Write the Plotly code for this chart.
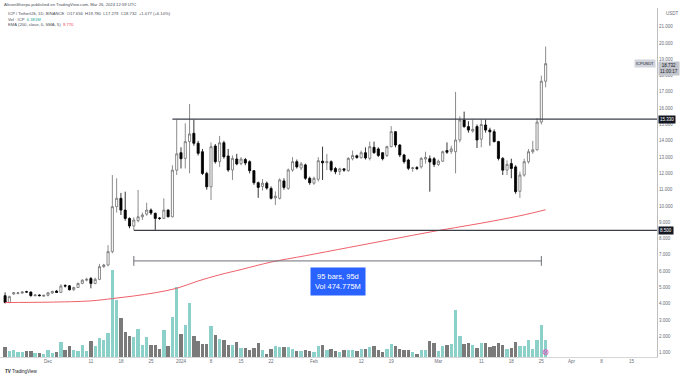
import plotly.graph_objects as go
import pandas as pd

# ---------------- data ----------------
start_date = "2023-11-21"
opens = [4.50, 4.08, 4.60, 4.64, 4.66, 4.74, 4.72, 4.50, 4.54, 4.47,
         4.52, 4.66, 4.78, 4.70, 5.12, 5.10, 4.86, 5.00, 5.25, 5.45,
         5.55, 5.25, 5.50, 6.28, 6.38, 7.20, 9.96, 10.47, 9.75, 9.24,
         8.77, 9.10, 9.34, 9.50, 9.75, 9.55, 9.26, 9.24, 9.75, 9.34,
         12.20, 13.27, 12.92, 13.95, 14.46, 13.85, 13.33, 12.00, 11.18, 13.68,
         12.72, 13.88, 13.07, 12.21, 12.88, 12.60, 12.85, 12.72, 12.17, 11.43,
         11.20, 11.40, 11.08, 10.50, 10.47, 11.54, 11.08, 12.21, 12.72, 12.33,
         12.52, 11.70, 11.40, 11.64, 12.75, 12.65, 12.72, 12.30, 12.12, 12.28,
         12.17, 12.90, 13.08, 12.96, 13.27, 12.92, 13.60, 13.50, 13.27, 13.10,
         13.64, 14.56, 13.74, 13.13, 12.82, 12.30, 12.36, 12.40, 12.88, 12.90,
         12.90, 12.55, 12.75, 13.40, 13.35, 13.33, 14.05, 15.28, 14.87, 14.60,
         14.87, 14.10, 14.97, 14.66, 14.56, 13.95, 12.92, 12.20, 12.60, 12.40,
         10.90, 11.90, 12.72, 13.33, 13.45, 15.15, 17.656]
highs = [4.70, 4.50, 4.72, 4.70, 4.76, 4.80, 4.76, 4.58, 4.58, 4.55,
         4.72, 4.80, 4.85, 5.20, 5.20, 5.15, 5.05, 5.30, 5.50, 5.60,
         5.65, 5.60, 6.45, 6.45, 7.60, 11.90, 11.70, 10.80, 10.88, 9.30,
         9.30, 10.98, 9.60, 10.20, 9.85, 9.60, 9.32, 10.47, 9.80, 12.50,
         15.30, 13.60, 15.07, 16.26, 15.30, 14.00, 13.50, 12.10, 13.90, 13.80,
         14.30, 14.00, 13.50, 13.10, 13.20, 13.00, 12.95, 12.80, 12.20, 11.50,
         11.65, 11.50, 11.20, 10.90, 11.70, 11.70, 12.30, 13.00, 12.85, 12.70,
         12.60, 11.80, 11.80, 13.00, 13.64, 13.20, 12.80, 12.40, 12.35, 12.30,
         13.00, 13.40, 13.15, 13.40, 13.60, 13.95, 13.95, 13.60, 13.30, 13.70,
         14.90, 14.60, 13.80, 13.20, 12.90, 12.40, 12.45, 13.00, 13.33, 13.10,
         13.00, 12.85, 13.40, 13.90, 13.70, 17.00, 15.50, 15.79, 15.20, 15.30,
         15.00, 15.30, 15.30, 14.80, 14.70, 14.00, 13.00, 12.80, 12.90, 12.50,
         12.10, 12.90, 13.50, 14.00, 15.40, 18.00, 19.780]
lows = [4.02, 4.03, 4.55, 4.58, 4.62, 4.68, 4.44, 4.45, 4.46, 4.42,
        4.45, 4.62, 4.66, 4.66, 5.00, 4.82, 4.80, 4.98, 5.20, 5.38,
        4.95, 5.20, 5.45, 6.20, 6.30, 7.10, 9.60, 9.45, 9.10, 8.63,
        8.53, 9.00, 9.15, 9.40, 9.45, 8.53, 9.15, 9.20, 9.30, 9.30,
        11.90, 12.30, 12.30, 12.00, 13.70, 13.10, 11.90, 11.00, 10.37, 12.60,
        12.40, 12.90, 12.10, 11.60, 12.50, 12.50, 12.50, 12.00, 11.30, 10.50,
        10.95, 11.00, 10.40, 10.06, 10.40, 11.00, 11.00, 12.10, 12.30, 12.20,
        11.60, 11.30, 11.30, 11.50, 11.60, 12.20, 12.10, 11.95, 11.90, 12.10,
        12.10, 12.80, 12.90, 12.90, 12.85, 12.80, 13.20, 13.00, 12.80, 13.00,
        13.60, 13.60, 13.00, 12.60, 12.20, 12.10, 12.20, 12.30, 12.60, 10.88,
        12.40, 12.45, 12.70, 13.20, 13.20, 12.00, 13.90, 14.80, 14.50, 14.50,
        13.56, 13.60, 14.50, 13.70, 13.90, 12.80, 11.90, 11.90, 11.70, 10.75,
        10.50, 11.80, 12.60, 13.20, 13.40, 15.00, 17.279]
closes = [4.08, 4.44, 4.68, 4.67, 4.72, 4.72, 4.50, 4.54, 4.50, 4.52,
          4.68, 4.76, 4.70, 5.09, 5.09, 4.86, 5.00, 5.25, 5.45, 5.50,
          5.25, 5.50, 6.28, 6.38, 7.20, 9.96, 10.47, 9.75, 9.24, 8.77,
          9.14, 9.34, 9.45, 9.75, 9.57, 9.24, 9.24, 9.75, 9.34, 12.20,
          13.20, 12.90, 13.95, 14.42, 13.85, 13.23, 12.00, 11.18, 13.64, 12.72,
          13.88, 13.02, 12.21, 12.92, 12.58, 12.88, 12.64, 12.17, 11.43, 11.14,
          11.40, 11.10, 10.47, 10.60, 11.60, 11.14, 12.21, 12.72, 12.40, 12.58,
          11.70, 11.43, 11.70, 12.78, 12.65, 12.72, 12.21, 12.10, 12.28, 12.20,
          12.92, 13.10, 12.98, 13.27, 12.95, 13.64, 13.27, 13.10, 12.90, 13.64,
          14.56, 13.74, 13.13, 12.72, 12.31, 12.34, 12.30, 12.92, 12.98, 12.70,
          12.55, 12.75, 13.33, 13.30, 13.50, 14.05, 15.28, 14.87, 14.66, 14.70,
          14.05, 15.00, 14.66, 14.55, 13.95, 12.92, 12.20, 12.55, 12.30, 10.88,
          11.90, 12.72, 13.33, 13.45, 15.15, 17.656, 18.732]
volumes_m = [3.69, 2.32, 2.47, 1.85, 1.96, 2.21, 2.21, 1.59, 1.48, 1.22,
             2.58, 1.48, 1.85, 5.65, 2.58, 4.06, 2.58, 2.32, 4.43, 2.32,
             5.79, 3.95, 7.01, 6.27, 8.86, 31.96, 20.92, 14.39, 9.23, 7.86,
             7.27, 10.33, 4.54, 7.49, 4.43, 4.43, 3.06, 10.07, 3.95, 14.76,
             25.72, 8.49, 11.81, 19.93, 7.64, 5.79, 4.80, 4.80, 11.33, 8.23,
             6.64, 6.16, 4.54, 4.54, 5.65, 3.21, 3.21, 2.47, 3.43, 5.06,
             2.47, 1.22, 2.95, 3.95, 3.58, 3.58, 3.58, 3.06, 2.21, 2.32,
             2.58, 2.21, 1.96, 3.95, 4.32, 2.58, 3.06, 2.32, 1.96, 2.58,
             2.58, 2.58, 2.21, 3.06, 3.06, 3.69, 4.06, 2.69, 1.85, 2.95,
             4.80, 4.06, 2.95, 2.47, 2.58, 1.85, 1.22, 2.69, 2.69, 5.90,
             5.17, 2.10, 3.95, 4.54, 4.80, 17.34, 7.75, 4.69, 5.06, 4.32,
             3.43, 5.06, 5.06, 3.69, 4.06, 5.17, 4.54, 2.95, 3.21, 5.54,
             3.95, 4.06, 6.27, 3.06, 6.16, 11.92, 6.381]
# EMA(200) read at sampled bars
ema_dates = ["2023-11-21", "2023-12-01", "2023-12-11", "2023-12-16", "2023-12-21",
             "2023-12-26", "2023-12-31", "2024-01-05", "2024-01-10", "2024-01-15",
             "2024-01-22", "2024-01-30", "2024-02-09", "2024-02-19", "2024-02-29",
             "2024-03-10", "2024-03-20", "2024-03-26"]
ema_vals = [4.08, 4.10, 4.18, 4.32, 4.48, 4.68, 4.95, 5.40, 5.78, 6.10,
            6.56, 6.95, 7.45, 7.95, 8.45, 8.90, 9.40, 9.77]
resistance = 15.330
support = 8.500
price_ticks = list(range(1, 22))
x_tick_dates = ["2023-12-01", "2023-12-11", "2023-12-18", "2023-12-25", "2024-01-01",
                "2024-01-08", "2024-01-15", "2024-01-22", "2024-02-01", "2024-02-12",
                "2024-02-19", "2024-03-01", "2024-03-11", "2024-03-18", "2024-03-25",
                "2024-04-01", "2024-04-08", "2024-04-15"]
x_tick_text = ["Dec", "11", "18", "25", "2024", "8", "15", "22", "Feb", "12",
               "19", "Mar", "11", "18", "25", "Apr", "8", "15"]
range_start, range_end = "2023-12-21", "2024-03-25"
range_price = 6.63
range_label = "95 bars, 95d<br>Vol 474.775M"

# ---------------- figure ----------------
dates = pd.date_range(start_date, periods=len(closes), freq="D")
W, H = 680, 378
L, R, T, B = 0, 23, 8, 21
plot_w, plot_h = W - L - R, H - T - B

def py(ypx):
    return (H - B - ypx) / plot_h

TEAL = "#8bd0c9"
GREY = "#7a7a7a"
vol_colors = [TEAL if c >= o else GREY for o, c in zip(opens, closes)]

fig = go.Figure()
fig.add_trace(go.Bar(x=dates, y=volumes_m, marker=dict(color=vol_colors, line=dict(width=0)),
                     width=0.78 * 86400000, yaxis="y", hoverinfo="skip", showlegend=False))
fig.add_trace(go.Scatter(x=pd.to_datetime(ema_dates), y=ema_vals, mode="lines",
                         line=dict(color="#f0606a", width=1, shape="spline"),
                         yaxis="y2", showlegend=False))
fig.add_trace(go.Candlestick(x=dates, open=opens, high=highs, low=lows, close=closes,
                             increasing=dict(fillcolor="#ffffff", line=dict(color="#6f6f6f", width=0.8)),
                             decreasing=dict(fillcolor="#000000", line=dict(color="#000000", width=0.8)),
                             whiskerwidth=0, yaxis="y2", showlegend=False))

d0 = pd.Timestamp("2023-12-01")
ppd = 4.29
x_lo = d0 - pd.Timedelta(days=48 / ppd)
x_hi = d0 + pd.Timedelta(days=(plot_w - 48) / ppd)
p_lo = (369 - (H - B)) / 16.3
p_hi = (369 - T) / 16.3
vol_max = plot_h * 0.369

fig.update_layout(
    width=W, height=H, margin=dict(l=L, r=R, t=T, b=B),
    paper_bgcolor="white", plot_bgcolor="white",
    font=dict(family="Liberation Sans, Arial, sans-serif", color="#6a6d78", size=5),
    xaxis=dict(type="date", range=[x_lo, x_hi], rangeslider=dict(visible=False),
               tickvals=pd.to_datetime(x_tick_dates), ticktext=x_tick_text,
               showgrid=False, zeroline=False, showline=True, linecolor="#d6d6d6", linewidth=1,
               ticks="", tickfont=dict(size=4.5, color="#6a6d78")),
    yaxis=dict(range=[0, vol_max], visible=False, fixedrange=True),
    yaxis2=dict(range=[p_lo, p_hi], overlaying="y", side="right", showgrid=False, zeroline=False,
                tickvals=price_ticks, ticktext=[f"{v:.3f}" for v in price_ticks],
                showline=True, linecolor="#bdbdbd", linewidth=1, ticks="",
                tickfont=dict(size=4.5, color="#6a6d78")),
    bargap=0,
)

# horizontal levels
for lvl, x_from in [(resistance, "2023-12-30"), (support, "2023-12-21")]:
    fig.add_shape(type="line", xref="x", yref="y2", x0=pd.Timestamp(x_from), x1=x_hi,
                  y0=lvl, y1=lvl, line=dict(color="#3c3f48", width=1.3))
    fig.add_annotation(xref="paper", yref="y2", x=1, y=lvl, xanchor="left", yanchor="middle",
                       text=f"{lvl:.3f}", showarrow=False, bgcolor="#131722",
                       font=dict(size=4.5, color="white"), borderpad=1, xshift=1)

# date range measure
rs, re_ = pd.Timestamp(range_start), pd.Timestamp(range_end)
fig.add_shape(type="line", xref="x", yref="y2", x0=rs, x1=re_, y0=range_price, y1=range_price,
              line=dict(color="#6d6f78", width=1))
for xe in (rs, re_):
    fig.add_shape(type="line", xref="x", yref="y2", x0=xe, x1=xe,
                  y0=range_price - 0.3, y1=range_price + 0.3, line=dict(color="#6d6f78", width=1))
fig.add_annotation(xref="x", yref="y2", x=rs + (re_ - rs) / 2, y=5.38, text=range_label,
                   showarrow=False, bgcolor="#2962ff", borderpad=4,
                   font=dict(size=7.5, color="white"), align="center")

# last price labels
fig.add_annotation(xref="paper", yref="y2", x=1, y=closes[-1], xanchor="right", yanchor="middle",
                   text="ICPUSDT", showarrow=False, bgcolor="#d1d4dc",
                   font=dict(size=4, color="#131722"), borderpad=1, xshift=-1)
fig.add_annotation(xref="paper", yref="y2", x=1, y=closes[-1], xanchor="left", yanchor="top",
                   text=f"{closes[-1]:.3f}<br>11:00:17", showarrow=False, bgcolor="#c3c5cc",
                   font=dict(size=4.5, color="#131722"), borderpad=1, xshift=1, yshift=3)
fig.add_annotation(xref="paper", yref="paper", x=1, y=py(14), xanchor="left", yanchor="middle",
                   text="USDT", showarrow=False, font=dict(size=4.5, color="#6a6d78"), xshift=7)

# marker on last volume bar
fig.add_trace(go.Scatter(x=[dates[-1]], y=[1.8], mode="markers", yaxis="y",
                         marker=dict(symbol="circle-x-open", size=5, color="#d84ab8", line=dict(width=0.8)),
                         showlegend=False, hoverinfo="skip"))

# header texts
hdr = [
    (2, 4.7, "AltcoinSherpa published on TradingView.com, Mar 26, 2024 12:59 UTC", "#4a4d57"),
    (6, 13.7, "ICP / TetherUS, 1D, BINANCE  O17.656  H19.780  L17.279  C18.732  +1.077 (+6.10%)", "#4a4d57"),
    (6, 19.2, "Vol · ICP  <span style='color:#26a69a'>6.381M</span>", "#4a4d57"),
    (6, 24.6, "EMA (200, close, 0, SMA, 5)  <span style='color:#f23645'>9.770</span>", "#4a4d57"),
]
for xp, yp, txt, col in hdr:
    fig.add_annotation(xref="paper", yref="paper", x=xp / plot_w, y=py(yp), xanchor="left",
                       yanchor="middle", text=txt, showarrow=False, font=dict(size=4.2, color=col))

fig.add_annotation(xref="paper", yref="paper", x=3 / plot_w, y=py(372), xanchor="left", yanchor="middle",
                   text="<b>TV</b> TradingView", showarrow=False, font=dict(size=4.5, color="#131722"))

fig.write_html("out.html", config={"displayModeBar": False},
               post_script="document.body.style.margin='0';document.body.style.overflow='hidden';")
